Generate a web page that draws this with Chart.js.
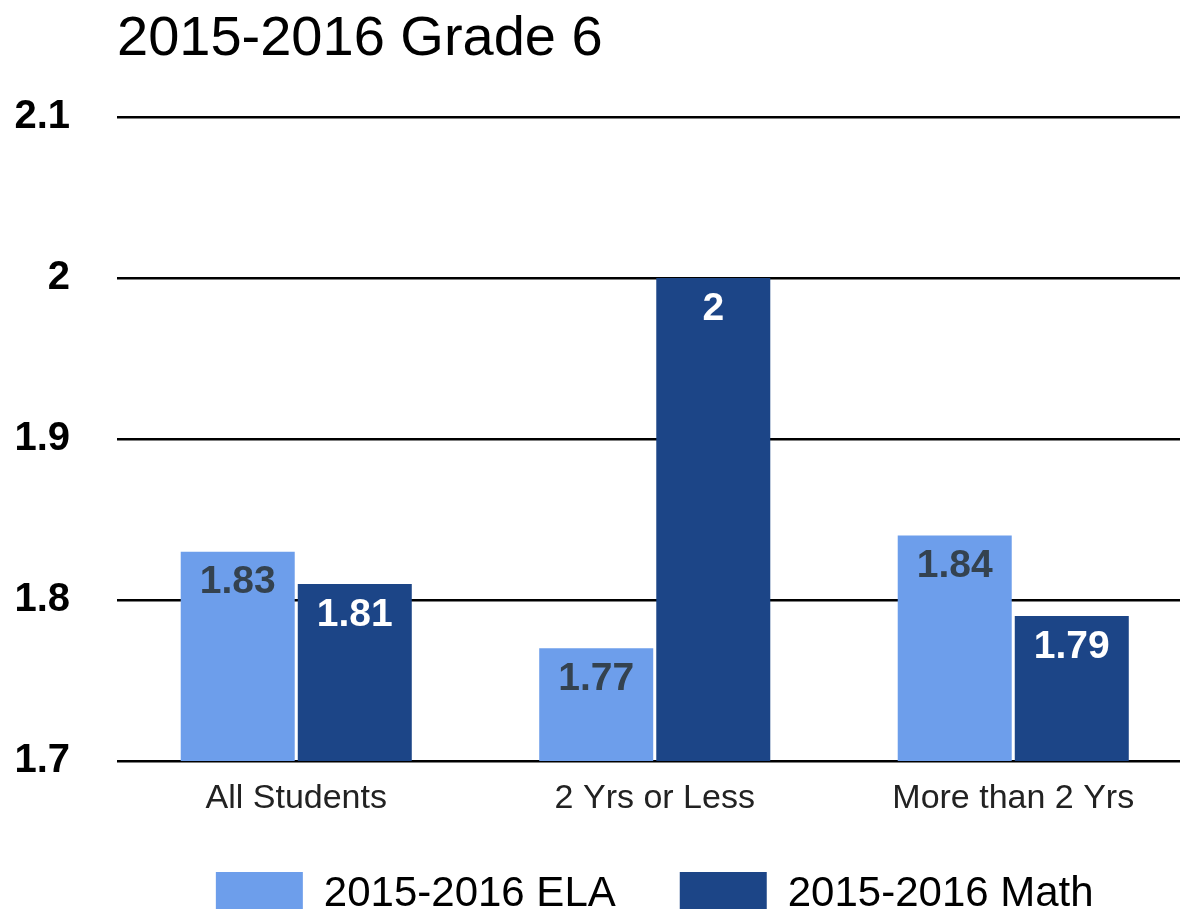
<!DOCTYPE html>
<html>
<head>
<meta charset="utf-8">
<script src="https://cdn.jsdelivr.net/npm/chart.js@4/dist/chart.umd.min.js"></script>
<style>
  html, body { margin:0; padding:0; background:#fff; overflow:hidden; }
  #wrap { width:1200px; height:926px; }
</style>
</head>
<body>
<div id="wrap"><canvas id="gradeChart" width="1200" height="926"></canvas></div>
<script>
// chart data
const chartTitle = '2015-2016 Grade 6';
const categories = ['All Students', '2 Yrs or Less', 'More than 2 Yrs'];
const seriesNames = ['2015-2016 ELA', '2015-2016 Math'];
const elaValues  = [1.83, 1.77, 1.84];
const mathValues = [1.81, 2, 1.79];
const yTicks = [1.7, 1.8, 1.9, 2.0, 2.1];

const FONT = 'Arial, "Liberation Sans", sans-serif';

// title drawn at the left edge of the plot area
const titlePlugin = {
  id: 'leftTitle',
  afterDraw(chart){
    const ctx = chart.ctx;
    ctx.save();
    ctx.font = '56px ' + FONT;
    ctx.fillStyle = '#000';
    ctx.textAlign = 'left';
    ctx.textBaseline = 'alphabetic';
    ctx.fillText(chartTitle, chart.chartArea.left, 55);
    ctx.restore();
  }
};

// value labels inside the top of each bar
const valueLabels = {
  id: 'valueLabels',
  afterDatasetsDraw(chart){
    const ctx = chart.ctx;
    ctx.save();
    ctx.font = 'bold 39px ' + FONT;
    ctx.textAlign = 'center';
    ctx.textBaseline = 'middle';
    chart.data.datasets.forEach((ds, di) => {
      const meta = chart.getDatasetMeta(di);
      ctx.fillStyle = ds.labelColor;
      meta.data.forEach((bar, i) => {
        ctx.fillText(String(ds.data[i]), bar.x, bar.y + 31);
      });
    });
    ctx.restore();
  }
};

const ctx = document.getElementById('gradeChart').getContext('2d');
new Chart(ctx, {
  type: 'bar',
  data: {
    labels: categories,
    datasets: [
      { label: seriesNames[0], data: elaValues, backgroundColor: '#6d9eeb', labelColor: '#34424f' },
      { label: seriesNames[1], data: mathValues, backgroundColor: '#1c4587', labelColor: '#ffffff' }
    ]
  },
  options: {
    responsive: false,
    animation: false,
    devicePixelRatio: 1,
    categoryPercentage: 0.653,
    barPercentage: 0.974,
    layout: { padding: { top: 117, right: 7.5, left: 0, bottom: 0 } },
    scales: {
      x: {
        grid: { display: false, drawTicks: false },
        border: { display: false },
        ticks: { color: '#222', font: { family: FONT, size: 34 }, padding: 17 },
        afterFit: s => { s.height = 47; }
      },
      y: {
        min: yTicks[0],
        max: yTicks[yTicks.length - 1],
        afterBuildTicks: s => { s.ticks = yTicks.map(v => ({ value: v })); },
        grid: { color: '#000', lineWidth: 2.5, drawTicks: false },
        border: { display: false },
        ticks: {
          color: '#000',
          font: { family: FONT, size: 40, weight: 'bold' },
          padding: 47,
          callback: v => String(Number(v.toFixed(1)))
        },
        afterFit: s => { s.width = 117; }
      }
    },
    plugins: {
      title: { display: false },
      tooltip: { enabled: false },
      legend: {
        position: 'bottom',
        fullSize: false,
        labels: {
          color: '#000',
          font: { family: FONT, size: 42 },
          boxWidth: 87,
          boxHeight: 44,
          padding: 64
        }
      }
    }
  },
  plugins: [titlePlugin, valueLabels]
});
</script>
</body>
</html>
